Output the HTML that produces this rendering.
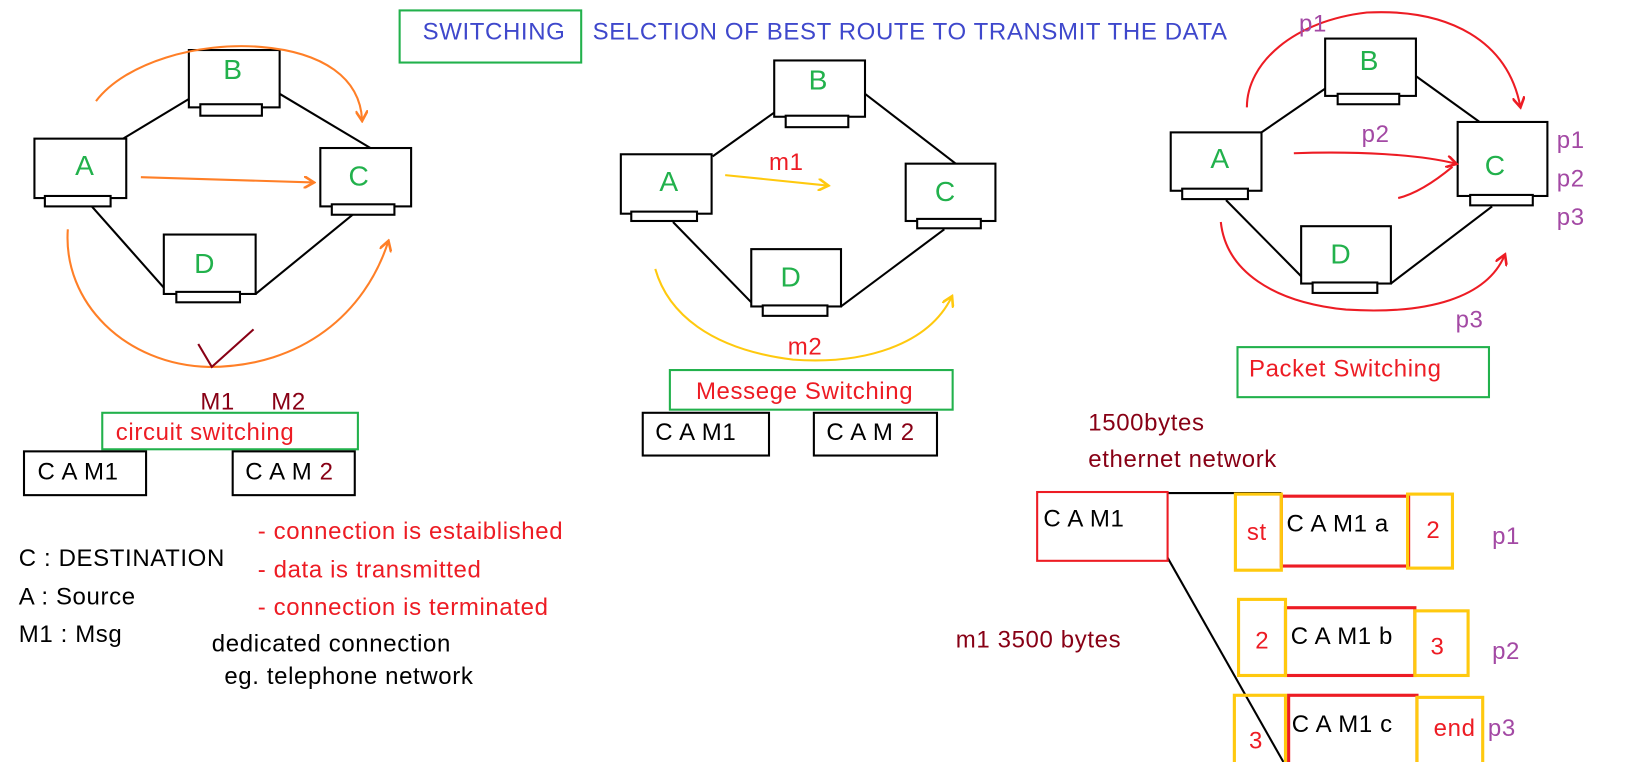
<!DOCTYPE html>
<html><head><meta charset="utf-8"><style>html,body{margin:0;padding:0;background:#fff;overflow:hidden}svg{display:block}text{font-family:"Liberation Sans",sans-serif;font-size:23px;letter-spacing:0.6px}</style></head>
<body>
<svg width="1634" height="762" viewBox="0 0 1566 731" preserveAspectRatio="none" xmlns="http://www.w3.org/2000/svg">
<defs>
<marker id="ao" markerWidth="12" markerHeight="12" refX="9" refY="6" orient="auto" markerUnits="userSpaceOnUse" viewBox="0 0 12 12"><path d="M0,0 L10,6 L0,12" fill="none" stroke="#ff7f27" stroke-width="2.5"/></marker>
<marker id="ay" markerWidth="12" markerHeight="12" refX="9" refY="6" orient="auto" markerUnits="userSpaceOnUse" viewBox="0 0 12 12"><path d="M0,0 L10,6 L0,12" fill="none" stroke="#ffc90e" stroke-width="2.5"/></marker>
<marker id="ar" markerWidth="12" markerHeight="12" refX="9" refY="6" orient="auto" markerUnits="userSpaceOnUse" viewBox="0 0 12 12"><path d="M0,0 L10,6 L0,12" fill="none" stroke="#ed1c24" stroke-width="2.5"/></marker>
</defs>
<rect x="383" y="10" width="174" height="50" fill="none" stroke="#22b14c" stroke-width="2"/>
<text x="405" y="38" fill="#3f48cc">SWITCHING</text>
<text x="568" y="38" fill="#3f48cc">SELCTION OF BEST ROUTE TO TRANSMIT THE DATA</text>

<!-- left -->
<g fill="none" stroke="#000" stroke-width="2">
<line x1="118" y1="133" x2="181" y2="95"/><line x1="268" y1="90" x2="355" y2="142"/>
<line x1="88" y1="198" x2="157" y2="276"/><line x1="245" y1="282" x2="338" y2="206"/>
<rect x="181" y="48" width="87" height="55" fill="#fff"/><rect x="192" y="100" width="59" height="11" fill="#fff"/>
<rect x="33" y="133" width="88" height="57" fill="#fff"/><rect x="43" y="188" width="63" height="10" fill="#fff"/>
<rect x="307" y="142" width="87" height="56" fill="#fff"/><rect x="318" y="196" width="60" height="10" fill="#fff"/>
<rect x="157" y="225" width="88" height="57" fill="#fff"/><rect x="169" y="280" width="61" height="10" fill="#fff"/>
</g>
<g fill="#22b14c"><text x="214" y="76" style="font-size:27px">B</text><text x="72" y="168" style="font-size:27px">A</text><text x="334" y="178" style="font-size:27px">C</text><text x="186" y="262" style="font-size:27px">D</text></g>
<g fill="none" stroke="#ff7f27" stroke-width="2">
<path d="M135,170 L300,175" marker-end="url(#ao)"/>
<path d="M92,97 C120,60 190,40 250,45 C310,50 345,75 347,115" marker-end="url(#ao)"/>
<path d="M65,220 C60,290 120,350 200,352 C290,352 350,300 372,232" marker-end="url(#ao)"/>
</g>
<path d="M190,330 L203,352 L243,316" fill="none" stroke="#880015" stroke-width="2"/>
<text x="192" y="393" fill="#880015">M1</text><text x="260" y="393" fill="#880015">M2</text>
<rect x="98" y="396" width="245" height="35" fill="none" stroke="#22b14c" stroke-width="2"/>
<text x="111" y="422" fill="#ed1c24">circuit switching</text>
<rect x="23" y="433" width="117" height="42" fill="none" stroke="#000" stroke-width="2"/><text x="36" y="460">C A M1</text>
<rect x="223" y="433" width="117" height="42" fill="none" stroke="#000" stroke-width="2"/><text x="235" y="460">C A M <tspan fill="#880015">2</tspan></text>
<text x="18" y="543">C : DESTINATION</text><text x="18" y="580">A : Source</text><text x="18" y="616">M1 : Msg</text>
<g fill="#ed1c24"><text x="247" y="517">- connection is estaiblished</text><text x="247" y="554">- data is transmitted</text><text x="247" y="590">- connection is terminated</text></g>
<text x="203" y="625">dedicated connection</text><text x="215" y="656">eg. telephone network</text>

<!-- middle -->
<g fill="none" stroke="#000" stroke-width="2">
<line x1="683" y1="150" x2="742" y2="108"/><line x1="829" y1="90" x2="916" y2="157"/>
<line x1="645" y1="213" x2="720" y2="290"/><line x1="806" y1="294" x2="905" y2="220"/>
<rect x="742" y="58" width="87" height="54" fill="#fff"/><rect x="753" y="111" width="60" height="11" fill="#fff"/>
<rect x="595" y="148" width="87" height="57" fill="#fff"/><rect x="605" y="203" width="63" height="9" fill="#fff"/>
<rect x="868" y="157" width="86" height="55" fill="#fff"/><rect x="879" y="210" width="61" height="9" fill="#fff"/>
<rect x="720" y="239" width="86" height="55" fill="#fff"/><rect x="731" y="293" width="62" height="10" fill="#fff"/>
</g>
<g fill="#22b14c"><text x="775" y="86" style="font-size:27px">B</text><text x="632" y="183" style="font-size:27px">A</text><text x="896" y="193" style="font-size:27px">C</text><text x="748" y="275" style="font-size:27px">D</text></g>
<g fill="none" stroke="#ffc90e" stroke-width="2">
<path d="M695,168 L793,178" marker-end="url(#ay)"/>
<path d="M628,258 C640,300 680,335 760,345 C830,350 890,330 912,285" marker-end="url(#ay)"/>
</g>
<text x="737" y="163" fill="#ed1c24">m1</text><text x="755" y="340" fill="#ed1c24">m2</text>
<rect x="642" y="355" width="271" height="38" fill="none" stroke="#22b14c" stroke-width="2"/>
<text x="667" y="383" fill="#ed1c24">Messege Switching</text>
<rect x="616" y="396" width="121" height="41" fill="none" stroke="#000" stroke-width="2"/><text x="628" y="422">C A M1</text>
<rect x="780" y="396" width="118" height="41" fill="none" stroke="#000" stroke-width="2"/><text x="792" y="422">C A M <tspan fill="#880015">2</tspan></text>

<!-- right -->
<g fill="none" stroke="#000" stroke-width="2">
<line x1="1209" y1="127" x2="1270" y2="85"/><line x1="1357" y1="73" x2="1443" y2="135"/>
<line x1="1175" y1="192" x2="1247" y2="265"/><line x1="1333" y1="272" x2="1430" y2="198"/>
<rect x="1270" y="37" width="87" height="55" fill="#fff"/><rect x="1282" y="90" width="59" height="10" fill="#fff"/>
<rect x="1122" y="127" width="87" height="56" fill="#fff"/><rect x="1133" y="181" width="63" height="10" fill="#fff"/>
<rect x="1397" y="117" width="86" height="71" fill="#fff"/><rect x="1409" y="187" width="60" height="10" fill="#fff"/>
<rect x="1247" y="217" width="86" height="55" fill="#fff"/><rect x="1258" y="271" width="62" height="10" fill="#fff"/>
</g>
<g fill="#22b14c"><text x="1303" y="67" style="font-size:27px">B</text><text x="1160" y="161" style="font-size:27px">A</text><text x="1423" y="168" style="font-size:27px">C</text><text x="1275" y="253" style="font-size:27px">D</text></g>
<g fill="none" stroke="#ed1c24" stroke-width="2">
<path d="M1195,103 C1195,60 1240,20 1310,12 C1390,8 1445,40 1457,102" marker-end="url(#ar)"/>
<path d="M1240,147 C1300,145 1360,148 1395,157" marker-end="url(#ar)"/>
<path d="M1340,190 C1360,185 1380,170 1392,160"/>
<path d="M1170,213 C1175,260 1220,290 1290,297 C1370,302 1425,285 1442,245" marker-end="url(#ar)"/>
</g>
<g fill="#a349a4"><text x="1245" y="30">p1</text><text x="1305" y="136">p2</text><text x="1395" y="314">p3</text>
<text x="1492" y="142">p1</text><text x="1492" y="179">p2</text><text x="1492" y="216">p3</text></g>
<rect x="1186" y="333" width="241" height="48" fill="none" stroke="#22b14c" stroke-width="2"/>
<text x="1197" y="361" fill="#ed1c24">Packet Switching</text>
<text x="1043" y="413" fill="#880015">1500bytes</text><text x="1043" y="448" fill="#880015">ethernet network</text>
<text x="916" y="621" fill="#880015">m1 3500 bytes</text>
<line x1="1119" y1="473" x2="1228" y2="473" stroke="#000" stroke-width="2"/>
<line x1="1119" y1="535" x2="1230" y2="731" stroke="#000" stroke-width="2"/>
<rect x="994" y="472" width="125" height="66" fill="none" stroke="#ed1c24" stroke-width="2"/><text x="1000" y="505">C A M1</text>
<g fill="none" stroke-width="3">
<rect x="1228" y="476" width="122" height="67" stroke="#ed1c24"/>
<rect x="1184" y="474" width="44" height="73" stroke="#ffc90e"/>
<rect x="1349" y="474" width="43" height="71" stroke="#ffc90e"/>
<rect x="1232" y="583" width="124" height="65" stroke="#ed1c24"/>
<rect x="1187" y="575" width="45" height="73" stroke="#ffc90e"/>
<rect x="1356" y="586" width="51" height="62" stroke="#ffc90e"/>
<rect x="1235" y="667" width="123" height="70" stroke="#ed1c24"/>
<rect x="1183" y="667" width="49" height="70" stroke="#ffc90e"/>
<rect x="1358" y="669" width="63" height="68" stroke="#ffc90e"/>
</g>
<g fill="#ed1c24"><text x="1195" y="518">st</text><text x="1367" y="516">2</text><text x="1203" y="622">2</text><text x="1371" y="628">3</text><text x="1197" y="718">3</text><text x="1374" y="706">end</text></g>
<text x="1233" y="510">C A M1 a</text><text x="1237" y="618">C A M1 b</text><text x="1238" y="702">C A M1 c</text>
<g fill="#a349a4"><text x="1430" y="522">p1</text><text x="1430" y="632">p2</text><text x="1426" y="706">p3</text></g>
</svg>
</body></html>
